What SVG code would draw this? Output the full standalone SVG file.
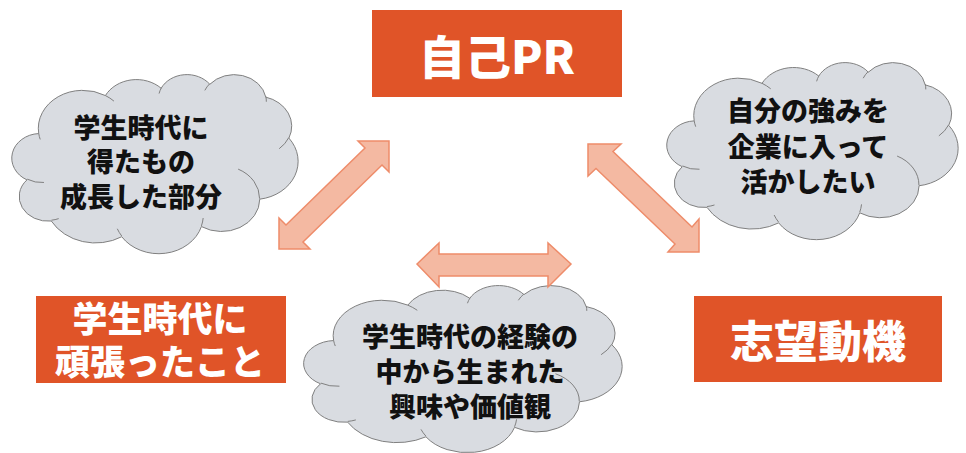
<svg xmlns="http://www.w3.org/2000/svg" xmlns:xlink="http://www.w3.org/1999/xlink" width="966" height="453" viewBox="0 0 966 453">
<style>
.box{fill:#E05428;}
.btxt{fill:#FFFFFF;font-family:"Noto Sans CJK JP","Noto Sans",sans-serif;font-weight:900;text-anchor:middle;}
.cloud{fill:#D9DCE1;stroke:#808080;stroke-width:1;}
.cusp{fill:none;stroke:#808080;stroke-width:1;}
.ctxt{fill:#111111;font-family:"Noto Sans CJK JP","Noto Sans",sans-serif;font-weight:900;font-size:27px;text-anchor:middle;}
.arrow{fill:#F4B9A2;stroke:#EE8C6A;stroke-width:1.5;stroke-linejoin:miter;}
</style>
<defs>
<path id="cloudShape" class="cloud" vector-effect="non-scaling-stroke" d="M39,143.7 A67.53 91.9 0 0 1 140.05 52.02 A53.33 72.67 0 0 1 224.58 34.35 A43.65 59.45 0 0 1 298.35 24.83 A48.57 65.95 0 0 1 383.2 55.78 A53.33 72.73 0 0 1 418.2 154.62 A67.75 92.2 0 0 1 374.06 302.05 A57.85 78.67 0 0 1 285.58 368.16 A67.52 92.15 0 0 1 164.83 392.68 A77.2 105.43 0 0 1 58.07 354.73 A43.6 59.18 0 0 1 21.16 255.51 A43.45 59.45 0 0 1 39 143.7 Z"/>
<path id="cloudCusps" class="cusp" vector-effect="non-scaling-stroke" d="M46.93,261.77 A43.45 59.45 0 0 1 21.6 253.8 M69.28,348.99 A43.6 59.18 0 0 1 58.2 352.81 M164.78,390.9 A67.52 92.15 0 0 1 158.1 373.49 M288.27,347.51 A67.52 92.15 0 0 1 285.6 366.6 M341.29,229.54 A57.85 78.67 0 0 1 373.8 300.9 M417.98,153.54 A53.33 72.73 0 0 1 403.49 180.31 M383.24,54.26 A48.57 65.95 0 0 1 384.01 66.9 M290.78,39.52 A48.57 65.95 0 0 1 298.2 23.39 M221.41,47.2 A43.65 59.45 0 0 1 225 33.3 M140,51.92 A67.53 91.9 0 0 1 153.02 65.43 M41.27,157.89 A67.53 91.9 0 0 1 39 143.71"/>
</defs>

<g id="node-jikopr">
<rect class="box" x="372" y="10" width="250" height="87"/>
<text class="btxt" x="497" y="74" font-size="46">自己PR</text>
</g>

<g id="node-gakusei">
<rect class="box" x="36" y="296" width="250" height="87"/>
<text class="btxt" font-size="35"><tspan x="160" y="332">学生時代に</tspan><tspan x="160" y="375">頑張ったこと</tspan></text>
</g>

<g id="node-shibou">
<rect class="box" x="694" y="296" width="248" height="86"/>
<text class="btxt" x="818" y="358" font-size="44">志望動機</text>
</g>

<g id="cloud-left">
<g transform="translate(13,74) scale(0.6597,0.4144)">
<use xlink:href="#cloudShape"/>
<use xlink:href="#cloudCusps"/>
</g>
<text class="ctxt"><tspan x="141" y="138">学生時代に</tspan><tspan x="141" y="172">得たもの</tspan><tspan x="141" y="207">成長した部分</tspan></text>
</g>

<g id="cloud-right">
<g transform="translate(668,62) scale(0.6713,0.4097)">
<use xlink:href="#cloudShape"/>
<use xlink:href="#cloudCusps"/>
</g>
<text class="ctxt"><tspan x="808" y="121">自分の強みを</tspan><tspan x="808" y="157">企業に入って</tspan><tspan x="808" y="192">活かしたい</tspan></text>
</g>

<g id="cloud-bottom">
<g transform="translate(305,285) scale(0.7338,0.3866)">
<use xlink:href="#cloudShape"/>
<use xlink:href="#cloudCusps"/>
</g>
<text class="ctxt"><tspan x="470" y="347">学生時代の経験の</tspan><tspan x="470" y="382">中から生まれた</tspan><tspan x="470" y="417">興味や価値観</tspan></text>
</g>

<g id="connectors">
<polygon class="arrow" points="389,141 389,172 382,165 303,242 310,249 279,249 279,218 286,225 365,148 358,141"/>
<polygon class="arrow" points="588,144 621,144 613,151.5 692,227 699,219 699,252 668,252 675,244 596,168.5 588,176"/>
<polygon class="arrow" points="417,264 439,243 439,254 548,254 548,243 571,264 548,287 548,276 439,276 439,287"/>
</g>
</svg>
